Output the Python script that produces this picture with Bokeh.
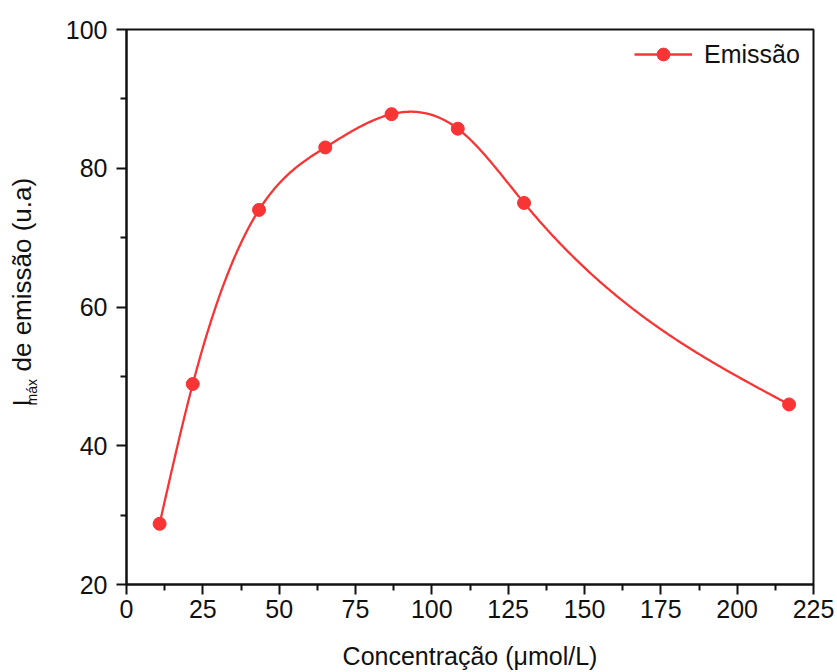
import math
import numpy as np
from bokeh.plotting import figure
from bokeh.layouts import row
from bokeh.models import FixedTicker, Range1d, Legend, LegendItem
from bokeh.core.properties import value
from bokeh.embed import file_html
from bokeh.resources import INLINE

# ---- data ----
conc = [10.85, 21.7, 43.4, 65.1, 86.8, 108.5, 130.2, 217.0]
emission = [28.75, 48.9, 74.0, 83.0, 87.8, 85.7, 75.0, 45.95]
series_name = "Emissão"
x_ticks = [0, 25, 50, 75, 100, 125, 150, 175, 200, 225]
x_minor = [12.5, 37.5, 62.5, 87.5, 112.5, 137.5, 162.5, 187.5, 212.5]
y_ticks = [20, 40, 60, 80, 100]
y_minor = [30, 50, 70, 90]
x_label = "Concentração (μmol/L)"
y_label_main = "I"
y_label_sub = "máx"
y_label_rest = "de emissão (u.a)"

# ---- layout ----
W, H = 837, 672
LW = 50                      # width of the strip that holds the y-axis title
FL, FR, FT, FB = 126, 813, 29, 584
X0, X1, Y0, Y1 = 0, 225, 20, 100
RED = "#F83434"
INK = "#111111"
FONT = "Liberation Sans"


# natural cubic spline for the smooth connecting line (Origin "spline" connect)
def natural_spline(xs, ys, num=400):
    xs = np.asarray(xs, float)
    ys = np.asarray(ys, float)
    n = len(xs)
    h = np.diff(xs)
    A = np.zeros((n, n))
    b = np.zeros(n)
    A[0, 0] = 1
    A[-1, -1] = 1
    for i in range(1, n - 1):
        A[i, i - 1] = h[i - 1]
        A[i, i] = 2 * (h[i - 1] + h[i])
        A[i, i + 1] = h[i]
        b[i] = 6 * ((ys[i + 1] - ys[i]) / h[i] - (ys[i] - ys[i - 1]) / h[i - 1])
    M = np.linalg.solve(A, b)
    xx = np.linspace(xs[0], xs[-1], num)
    idx = np.clip(np.searchsorted(xs, xx) - 1, 0, n - 2)
    x0 = xs[idx]
    x1 = xs[idx + 1]
    hh = h[idx]
    yy = (M[idx] * (x1 - xx) ** 3 / (6 * hh) + M[idx + 1] * (xx - x0) ** 3 / (6 * hh)
          + (ys[idx] / hh - M[idx] * hh / 6) * (x1 - xx)
          + (ys[idx + 1] / hh - M[idx + 1] * hh / 6) * (xx - x0))
    return xx, yy


sx, sy = natural_spline(conc, emission)

# ---- y-axis title strip: its frame spans the same rows as the chart frame,
#      coordinates are canvas pixels (x to the right, y downward) ----
lab = figure(width=LW, height=H, output_backend="svg", toolbar_location=None,
             x_range=Range1d(0, LW), y_range=Range1d(FB, FT),
             x_axis_type=None, y_axis_type=None,
             min_border_left=0, min_border_right=0,
             min_border_top=FT, min_border_bottom=H - FB)
lab.outline_line_color = None
lab.background_fill_color = "white"
lab.border_fill_color = "white"
common = dict(angle=math.pi / 2, text_font=value(FONT), text_color=INK,
              text_align="left", text_baseline="alphabetic")
lab.text(x=[21], y=[406], text=[y_label_main], text_font_size="26px", **common)
lab.text(x=[31], y=[405], text=[y_label_sub], text_font_size="14px", **common)
lab.text(x=[21], y=[371], text=[y_label_rest], text_font_size="26px", **common)

# ---- main chart ----
p = figure(width=W - LW, height=H, output_backend="svg", toolbar_location=None,
           x_range=Range1d(X0, X1), y_range=Range1d(Y0, Y1),
           min_border_left=FL - LW, min_border_right=W - FR,
           min_border_top=FT, min_border_bottom=H - FB)
p.background_fill_color = "white"
p.border_fill_color = "white"
p.grid.visible = False
p.outline_line_color = INK
p.outline_line_width = 2

ln = p.line(sx, sy, line_color=RED, line_width=2.3)
sc = p.scatter(conc, emission, size=13, fill_color=RED, line_color=RED, marker="circle")

for ax in (p.xaxis[0], p.yaxis[0]):
    ax.axis_line_width = 2
    ax.axis_line_color = INK
    ax.major_tick_line_width = 2
    ax.major_tick_line_color = INK
    ax.minor_tick_line_width = 2
    ax.minor_tick_line_color = INK
    ax.major_tick_in = 0
    ax.major_tick_out = 10
    ax.minor_tick_in = 0
    ax.minor_tick_out = 6
    ax.major_label_text_font = FONT
    ax.major_label_text_font_size = "25px"
    ax.major_label_text_color = INK

p.xaxis[0].ticker = FixedTicker(ticks=x_ticks, minor_ticks=x_minor)
p.yaxis[0].ticker = FixedTicker(ticks=y_ticks, minor_ticks=y_minor)
p.xaxis[0].major_label_standoff = 5
p.yaxis[0].major_label_standoff = 9

p.xaxis[0].axis_label = x_label
p.xaxis[0].axis_label_text_font = FONT
p.xaxis[0].axis_label_text_font_size = "25px"
p.xaxis[0].axis_label_text_font_style = "normal"
p.xaxis[0].axis_label_text_color = INK
p.xaxis[0].axis_label_standoff = 21

legend = Legend(items=[LegendItem(label=series_name, renderers=[ln, sc])],
                location=(634 - FL, FB - 70))
legend.border_line_color = None
legend.background_fill_alpha = 0
legend.label_text_font = FONT
legend.label_text_font_size = "25px"
legend.label_text_color = INK
legend.glyph_width = 58
legend.glyph_height = 32
legend.label_standoff = 12
legend.padding = 1
legend.margin = 0
p.add_layout(legend)

layout = row(lab, p)
open("out.html", "w").write(file_html(layout, INLINE))
